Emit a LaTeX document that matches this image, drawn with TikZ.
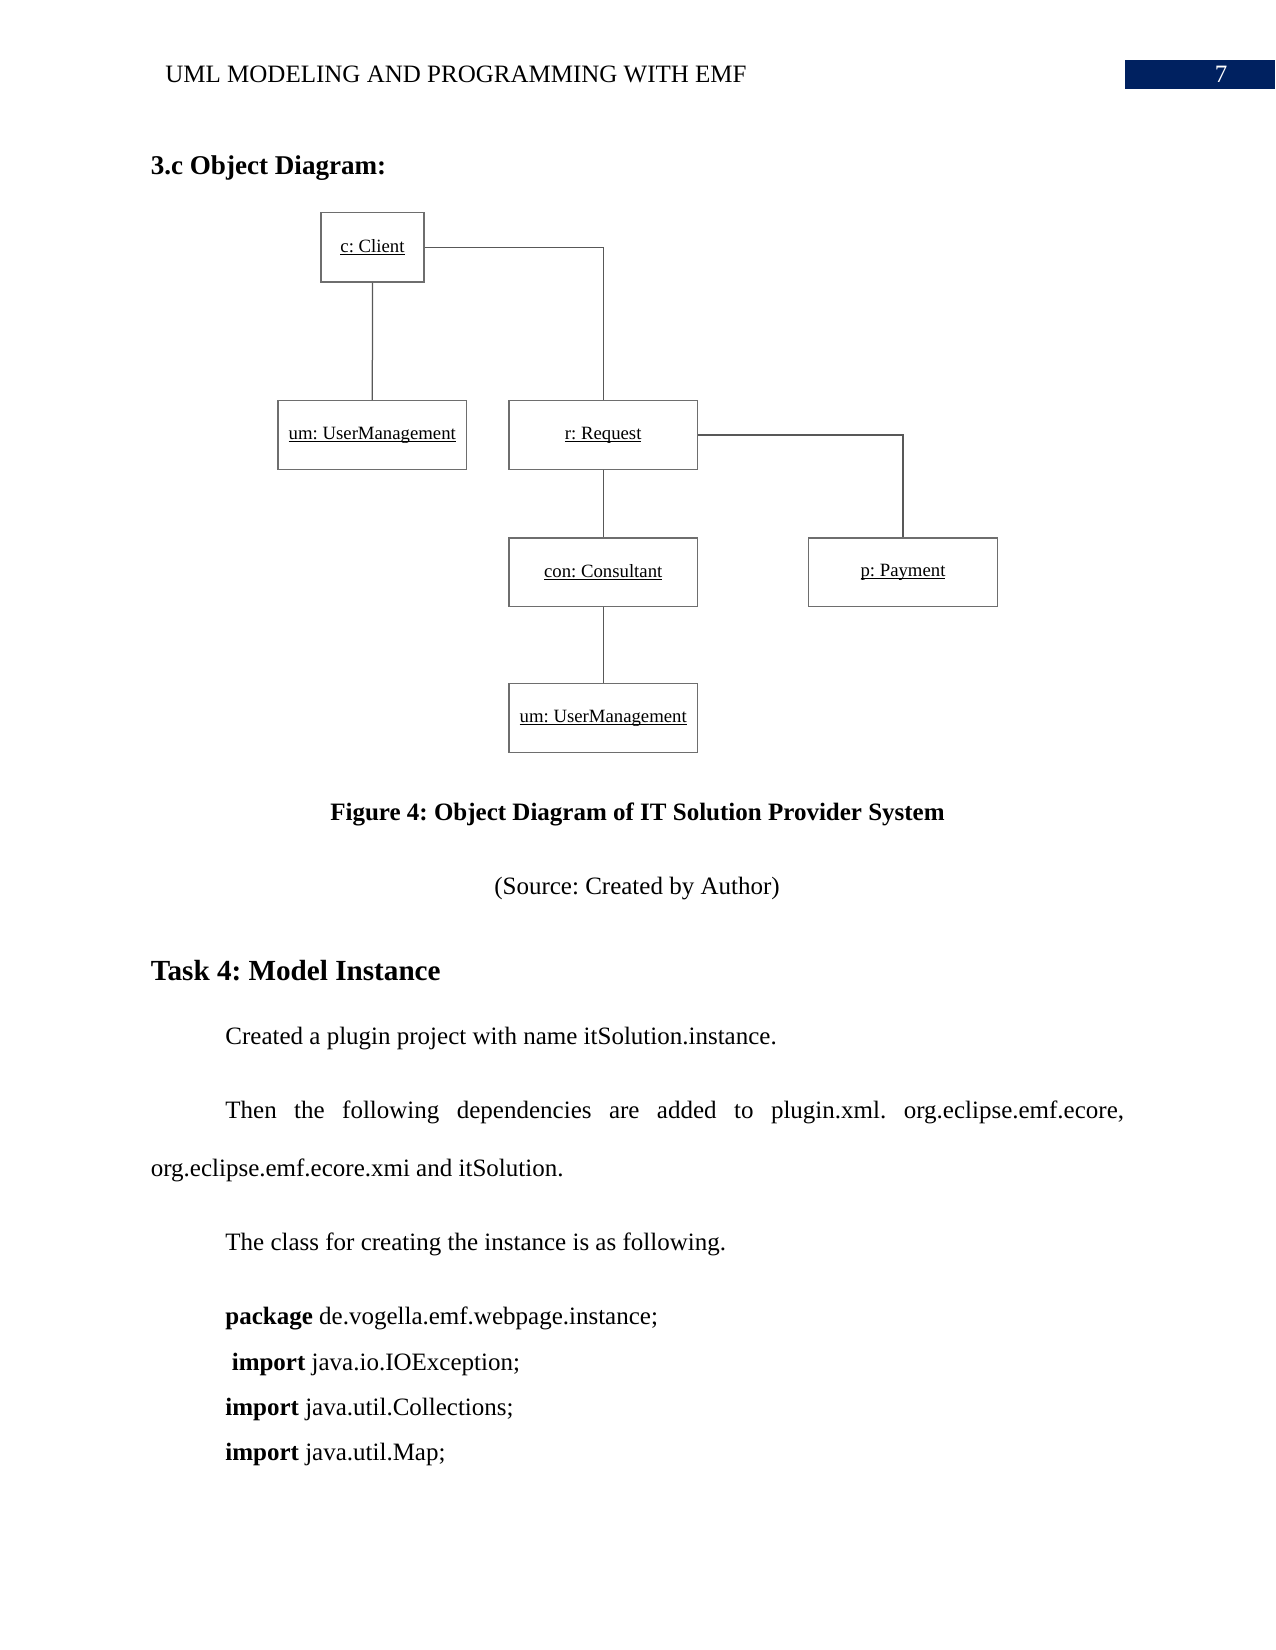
\documentclass[tikz,border=0pt]{standalone}
\usepackage{fontspec}
\setmainfont{Liberation Serif}
\frenchspacing
\definecolor{navy}{RGB}{0,33,96}
\definecolor{boxline}{RGB}{110,110,110}
\newcommand\objul[1]{\setbox0\hbox{#1}\rlap{\rule[-1.3pt]{\wd0}{0.45pt}}\box0}
\begin{document}
\begin{tikzpicture}[x=0.48pt,y=-0.48pt,
  obj/.style={draw=boxline,line width=0.6pt,minimum width=90.5pt,minimum height=32.9pt,inner sep=0pt,font=\fontsize{9}{10}\selectfont},
  link/.style={draw=boxline!80!black,line width=0.6pt},
  txt/.style={anchor=base west,inner sep=0pt,font=\fontsize{12}{14}\selectfont},
  ctxt/.style={anchor=base,inner sep=0pt,font=\fontsize{12}{14}\selectfont}]
\useasboundingbox (0,0) rectangle (1275,1650);
% header
\node[txt] (hdr) at (165,83) {UML MODELING AND PROGRAMMING WITH EMF};
\fill[navy] (1124.6,60) rectangle (1275,89.4);
\node[ctxt,text=white] (pg) at (1221,83) {7};
% heading
\node[txt,font=\fontsize{13}{15}\selectfont\bfseries] (h1) at (150.4,174.6) {3.c Object Diagram:};
% diagram
\node[obj,minimum width=49.4pt,minimum height=33.4pt] (client) at (372.5,247.3) {\objul{c: Client}};
\node[obj] (um1) at (372.3,435) {\objul{um: UserManagement}};
\node[obj] (req) at (603.2,435) {\objul{r: Request}};
\node[obj] (con) at (603.2,572.3) {\objul{con: Consultant}};
\node[obj] (pay) at (903,572.3) {\objul{p: Payment}};
\node[obj] (um2) at (603.2,718) {\objul{um: UserManagement}};
\draw[link] (client.east) -| (req.north);
\draw[link] (client.south) -- (um1.north);
\draw[link] (req.east) -| (pay.north);
\draw[link] (req.south) -- (con.north);
\draw[link] (con.south) -- (um2.north);
% caption
\node[ctxt,font=\fontsize{12}{14}\selectfont\bfseries] (cap) at (637.5,820) {Figure 4: Object Diagram of IT Solution Provider System};
\node[ctxt] (src) at (637,894) {(Source: Created by Author)};
% task
\node[txt,font=\fontsize{14}{16}\selectfont\bfseries] (h2) at (150.4,980) {Task 4: Model Instance};
\node[txt] (p1) at (225,1044.5) {Created a plugin project with name itSolution.instance.};
\node[txt] (p2) at (225,1118) {\makebox[431.3pt][s]{Then the following dependencies are added to plugin.xml. org.eclipse.emf.ecore,}};
\node[txt] (p3) at (150.4,1176) {org.eclipse.emf.ecore.xmi and itSolution.};
\node[txt] (p4) at (225,1250) {The class for creating the instance is as following.};
\node[txt] (c1) at (225,1324.5) {\textbf{package} de.vogella.emf.webpage.instance;};
\node[txt] (c2) at (231.4,1370) {\textbf{import} java.io.IOException;};
\node[txt] (c3) at (225,1415) {\textbf{import} java.util.Collections;};
\node[txt] (c4) at (225,1460) {\textbf{import} java.util.Map;};
\end{tikzpicture}
\end{document}
